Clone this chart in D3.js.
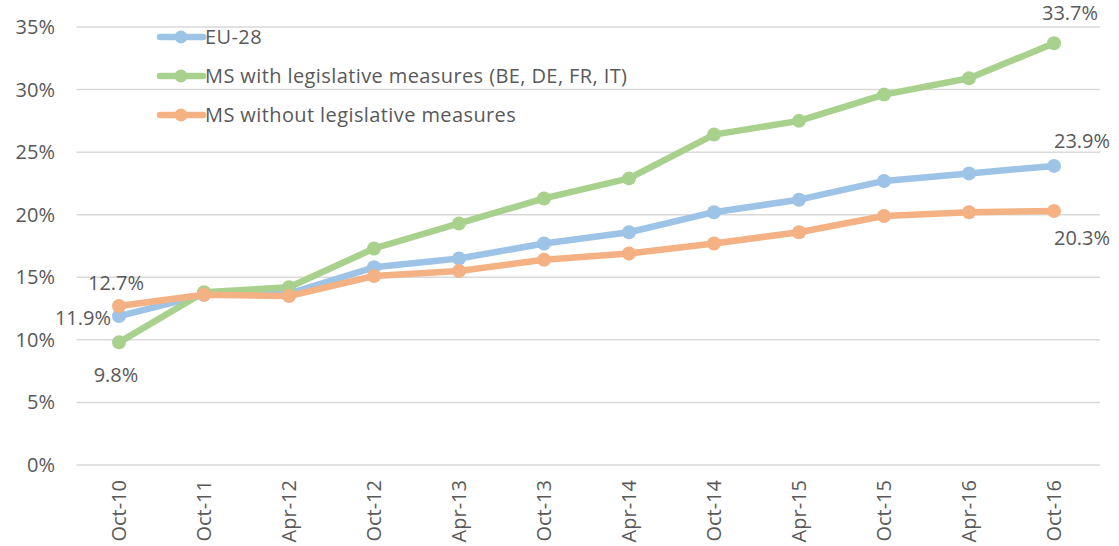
<!DOCTYPE html>
<html>
<head>
  <style>
    body { margin: 0; background: #fff; }
    text { font-family: "Open Sans", sans-serif; fill: #595959; }
  </style>
</head>
<body>
  <svg id="chart" width="1119" height="546"></svg>
  <script src="https://d3js.org/d3.v7.min.js"></script>
  <script>
    const periods = ['Oct-10', 'Oct-11', 'Apr-12', 'Oct-12', 'Apr-13', 'Oct-13', 'Apr-14', 'Oct-14', 'Apr-15', 'Oct-15', 'Apr-16', 'Oct-16']
    const eu28 = [11.9, 13.6, 13.7, 15.8, 16.5, 17.7, 18.6, 20.2, 21.2, 22.7, 23.3, 23.9]
    const msWith = [9.8, 13.8, 14.2, 17.3, 19.3, 21.3, 22.9, 26.4, 27.5, 29.6, 30.9, 33.7]
    const msWithout = [12.7, 13.6, 13.5, 15.1, 15.5, 16.4, 16.9, 17.7, 18.6, 19.9, 20.2, 20.3]
    const yTicks = [0, 5, 10, 15, 20, 25, 30, 35]

    const series = [
      { name: 'EU-28', values: eu28, color: '#9dc3e6' },
      { name: 'MS with legislative measures (BE, DE, FR, IT)', values: msWith, color: '#a9d18e' },
      { name: 'MS without legislative measures', values: msWithout, color: '#f4b183' }
    ]

    const svg = d3.select('#chart')
    const plotL = 76.5, plotR = 1096.5, plotT = 27, plotB = 465
    const fs = 20

    const x = d3.scalePoint().domain(periods).range([plotL, plotR]).padding(0.5)
    const y = d3.scaleLinear().domain([0, 35]).range([plotB, plotT])

    // grid
    svg.append('g').selectAll('line').data(yTicks).enter()
      .append('line')
      .attr('x1', plotL).attr('x2', 1100)
      .attr('y1', d => y(d)).attr('y2', d => y(d))
      .attr('stroke', '#d9d9d9').attr('stroke-width', 1.5)

    svg.append('g').selectAll('text').data(yTicks).enter()
      .append('text')
      .attr('x', 55).attr('y', d => y(d) + 7)
      .attr('text-anchor', 'end')
      .attr('font-size', fs)
      .text(d => d + '%')

    svg.append('g').selectAll('text').data(periods).enter()
      .append('text')
      .attr('transform', d => `translate(${x(d) + 7},480) rotate(-90)`)
      .attr('text-anchor', 'end')
      .attr('font-size', fs)
      .text(d => d)

    const line = d3.line().x((d, i) => x(periods[i])).y(d => y(d))

    series.forEach(s => {
      const g = svg.append('g')
      g.append('path').datum(s.values)
        .attr('d', line)
        .attr('fill', 'none')
        .attr('stroke', s.color)
        .attr('stroke-width', 6.5)
        .attr('stroke-linejoin', 'round')
      g.selectAll('circle').data(s.values).enter()
        .append('circle')
        .attr('cx', (d, i) => x(periods[i]))
        .attr('cy', d => y(d))
        .attr('r', 7)
        .attr('fill', s.color)
    })

    // data labels
    const last = periods.length - 1
    const labels = [
      { v: eu28[0], x: x(periods[0]) - 8, y: y(eu28[0]) + 9, anchor: 'end' },
      { v: msWithout[0], x: x(periods[0]) - 3, y: y(msWithout[0]) - 16, anchor: 'middle' },
      { v: msWith[0], x: x(periods[0]) - 3, y: y(msWith[0]) + 40, anchor: 'middle' },
      { v: msWith[last], x: x(periods[last]) + 16, y: y(msWith[last]) - 23, anchor: 'middle' },
      { v: eu28[last], x: x(periods[last]) + 28, y: y(eu28[last]) - 18, anchor: 'middle' },
      { v: msWithout[last], x: x(periods[last]) + 28, y: y(msWithout[last]) + 34, anchor: 'middle' }
    ]
    svg.append('g').selectAll('text').data(labels).enter()
      .append('text')
      .attr('x', d => d.x)
      .attr('y', d => d.y)
      .attr('text-anchor', d => d.anchor)
      .attr('font-size', fs)
      .text(d => d.v.toFixed(1) + '%')

    // legend
    const legend = svg.append('g')
    series.forEach((s, i) => {
      const ly = 37 + i * 39
      legend.append('line')
        .attr('x1', 160).attr('x2', 203)
        .attr('y1', ly).attr('y2', ly)
        .attr('stroke', s.color).attr('stroke-width', 6.5)
        .attr('stroke-linecap', 'round')
      legend.append('circle')
        .attr('cx', 181).attr('cy', ly).attr('r', 6.5).attr('fill', s.color)
      legend.append('text')
        .attr('x', 205).attr('y', ly + 7)
        .attr('font-size', fs)
        .attr('letter-spacing', 0.4)
        .text(s.name)
    })
  </script>
</body>
</html>
